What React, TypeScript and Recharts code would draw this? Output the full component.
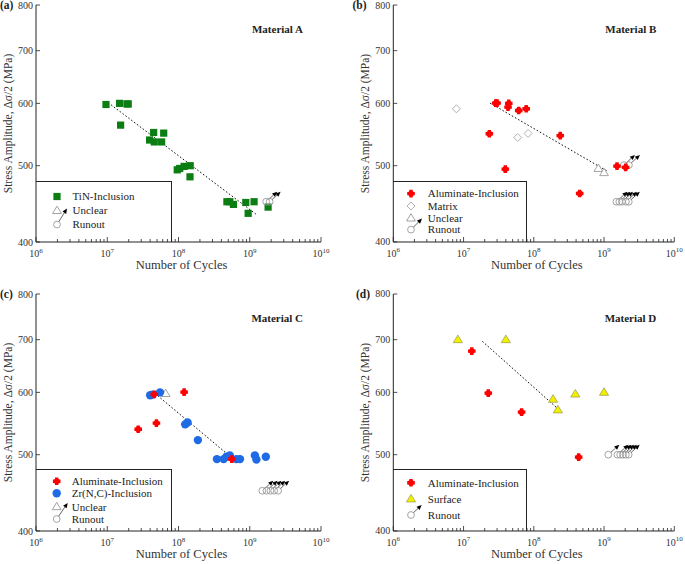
import React from 'react';
import { ScatterChart, Scatter, XAxis, YAxis } from 'recharts';

const FONT = '"Liberation Serif", "Times New Roman", serif';
const INK = '#222';
const PLOT_H = 237;

// axis ticks
const decades = [1e6, 1e7, 1e8, 1e9, 1e10];
const decadeExp = ['6', '7', '8', '9', '10'];
const minorSteps = [2, 3, 4, 5, 6, 7, 8, 9];
const xTicks = [...decades, ...decades.slice(0, -1).flatMap((d) => minorSteps.map((m) => m * d))].sort((a, b) => a - b);
const yTicks = [400, 500, 600, 700, 800];

// (a) Material A
const tinA = [
  { n: 9.6e6, s: 598 }, { n: 1.49e7, s: 600 }, { n: 1.89e7, s: 599 }, { n: 1.97e7, s: 599 },
  { n: 1.54e7, s: 563 }, { n: 4.48e7, s: 551 }, { n: 6.2e7, s: 550 }, { n: 3.93e7, s: 539 },
  { n: 4.57e7, s: 536 }, { n: 5.8e7, s: 536 }, { n: 9.6e7, s: 494 }, { n: 1.04e8, s: 496 },
  { n: 1.2e8, s: 499 }, { n: 1.46e8, s: 500 }, { n: 1.45e8, s: 484 }, { n: 4.78e8, s: 450 },
  { n: 5.25e8, s: 450 }, { n: 5.9e8, s: 446.5 }, { n: 8.8e8, s: 449 }, { n: 1.15e9, s: 450 },
  { n: 9.5e8, s: 435 }, { n: 1.81e9, s: 443 },
];
const runoutA = [{ n: 1.7e9, s: 450 }, { n: 1.9e9, s: 450 }];
const trendA = [{ n: 1.13e7, s: 597.5 }, { n: 1.22e9, s: 434 }];

// (b) Material B
const aluminateB = [
  { n: 2.87e7, s: 600.5 }, { n: 3.0e7, s: 600.5 }, { n: 4.4e7, s: 600 }, { n: 4.3e7, s: 593.5 },
  { n: 6.1e7, s: 587.6 }, { n: 7.8e7, s: 590.5 }, { n: 2.33e7, s: 549 }, { n: 2.38e8, s: 546 },
  { n: 3.93e7, s: 495 }, { n: 1.53e9, s: 499.4 }, { n: 2.03e9, s: 497.5 }, { n: 4.5e8, s: 461 },
];
const matrixB = [{ n: 7.9e6, s: 590.5 }, { n: 5.9e7, s: 543 }, { n: 8.3e7, s: 549.5 }];
const unclearB = [{ n: 8.3e8, s: 496 }, { n: 1.0e9, s: 490 }];
const runoutB = [
  { n: 1.92e9, s: 501 }, { n: 2.26e9, s: 501 },
  { n: 1.5e9, s: 450 }, { n: 1.65e9, s: 450 }, { n: 1.8e9, s: 450 }, { n: 2.05e9, s: 450 }, { n: 2.25e9, s: 450 },
];
const trendB = [{ n: 2.38e7, s: 600.5 }, { n: 1.09e9, s: 492.6 }];

// (c) Material C
const aluminateC = [
  { n: 4.57e7, s: 596.5 }, { n: 1.2e8, s: 600.5 }, { n: 2.72e7, s: 538.7 }, { n: 4.9e7, s: 548.4 }, { n: 5.6e8, s: 493.6 },
];
const zrncC = [
  { n: 4.0e7, s: 595 }, { n: 4.3e7, s: 596 }, { n: 5.5e7, s: 600 }, { n: 1.24e8, s: 546.4 },
  { n: 1.34e8, s: 549.5 }, { n: 1.87e8, s: 521.8 }, { n: 3.46e8, s: 493.6 }, { n: 4.3e8, s: 493.6 },
  { n: 4.7e8, s: 497 }, { n: 5.25e8, s: 499 }, { n: 6.5e8, s: 493.6 }, { n: 7.3e8, s: 493.6 },
  { n: 1.18e9, s: 499 }, { n: 1.24e9, s: 493 }, { n: 1.68e9, s: 497 },
];
const unclearC = [{ n: 6.6e7, s: 598 }];
const runoutC = [
  { n: 1.5e9, s: 450 }, { n: 1.72e9, s: 450 }, { n: 1.95e9, s: 450 }, { n: 2.2e9, s: 450 }, { n: 2.5e9, s: 450 },
];
const trendC = [{ n: 5.1e7, s: 594.2 }, { n: 4.6e8, s: 502.9 }];

// (d) Material D
const aluminateD = [{ n: 1.31e7, s: 677 }, { n: 2.25e7, s: 598.6 }, { n: 6.7e7, s: 566.3 }, { n: 4.35e8, s: 496.4 }];
const surfaceD = [
  { n: 8.3e6, s: 700 }, { n: 4.0e7, s: 700 }, { n: 1.88e8, s: 588 }, { n: 3.9e8, s: 597 },
  { n: 1.0e9, s: 600 }, { n: 2.2e8, s: 570 },
];
const runoutD = [
  { n: 1.15e9, s: 500 }, { n: 1.55e9, s: 500 }, { n: 1.7e9, s: 500 }, { n: 1.86e9, s: 500 },
  { n: 2.04e9, s: 500 }, { n: 2.24e9, s: 500 },
];
const trendD = [{ n: 1.85e7, s: 696.6 }, { n: 2.23e8, s: 571.3 }];

// marker shapes
const Square = ({ cx, cy }: any) => <rect x={cx - 3.6} y={cy - 3.6} width={7.2} height={7.2} fill="#0b7d12" />;
const RedPlus = ({ cx, cy }: any) => (
  <g fill="#f00">
    <path d={`M${cx - 1.7},${cy - 3.8}h3.4v2.1h2.1v3.4h-2.1v2.1h-3.4v-2.1h-2.1v-3.4h2.1z`} />
    <circle cx={cx} cy={cy} r={2.9} />
  </g>
);
const BlueDot = ({ cx, cy }: any) => <circle cx={cx} cy={cy} r={4.2} fill="#1f6be6" />;
const YellowTri = ({ cx, cy }: any) => (
  <polygon points={`${cx},${cy - 4.6} ${cx + 4.6},${cy + 3} ${cx - 4.6},${cy + 3}`} fill="#f2ef00" stroke="#8a8a40" strokeWidth={0.6} />
);
const OpenTri = ({ cx, cy }: any) => (
  <polygon points={`${cx},${cy - 4.4} ${cx + 4.4},${cy + 3} ${cx - 4.4},${cy + 3}`} fill="#fff" stroke="#9a9a9a" strokeWidth={0.9} />
);
const OpenDiamond = ({ cx, cy }: any) => (
  <polygon points={`${cx},${cy - 4} ${cx + 4},${cy} ${cx},${cy + 4} ${cx - 4},${cy}`} fill="#fff" stroke="#a8a8a8" strokeWidth={0.9} />
);
const runoutMark = (dx: number, dy: number) => ({ cx, cy }: any) => {
  const len = Math.hypot(dx, dy);
  const ux = dx / len;
  const uy = dy / len;
  const tx = cx + dx;
  const ty = cy + dy;
  const bx = tx - ux * 5;
  const by = ty - uy * 5;
  return (
    <g>
      <circle cx={cx} cy={cy} r={3.4} fill="none" stroke="#9a9a9a" strokeWidth={0.9} />
      <line x1={cx + ux * 3.4} y1={cy + uy * 3.4} x2={bx} y2={by} stroke="#555" strokeWidth={0.9} />
      <polygon points={`${tx},${ty} ${bx - uy * 2.2},${by + ux * 2.2} ${bx + uy * 2.2},${by - ux * 2.2}`} fill="#000" />
    </g>
  );
};
const Runout = runoutMark(11, -10);
const Nothing = () => <g />;

const PANELS = [
  {
    tag: '(a)', tagX: 0, title: 'Material A', x0: 0, y0: 0, left: 36, top: 5, plotW: 285,
    series: [{ data: tinA, shape: Square }, { data: runoutA, shape: Runout }],
    trend: trendA,
    legend: { top: 180.7, right: 171.7, symX: 21, textX: 36.5, rows: [
      { y: 15.5, label: 'TiN-Inclusion', shape: Square },
      { y: 29.5, label: 'Unclear', shape: OpenTri },
      { y: 43.5, label: 'Runout', shape: runoutMark(10, -16) },
    ] },
  },
  {
    tag: '(b)', tagX: 352.5, title: 'Material B', x0: 340, y0: 0, left: 393.3, top: 5, plotW: 281,
    series: [
      { data: matrixB, shape: OpenDiamond }, { data: unclearB, shape: OpenTri },
      { data: runoutB, shape: Runout }, { data: aluminateB, shape: RedPlus },
    ],
    trend: trendB,
    legend: { top: 180.7, right: 526.7, symX: 18, textX: 34.5, rows: [
      { y: 12.6, label: 'Aluminate-Inclusion', shape: RedPlus },
      { y: 25, label: 'Matrix', shape: OpenDiamond },
      { y: 37, label: 'Unclear', shape: OpenTri },
      { y: 48.6, label: 'Runout', shape: runoutMark(11, -11) },
    ] },
  },
  {
    tag: '(c)', tagX: 0, title: 'Material C', x0: 0, y0: 280, left: 36, top: 294, plotW: 285,
    series: [
      { data: unclearC, shape: OpenTri }, { data: zrncC, shape: BlueDot },
      { data: aluminateC, shape: RedPlus }, { data: runoutC, shape: Runout },
    ],
    trend: trendC,
    legend: { top: 469, right: 171.7, symX: 20.7, textX: 35.7, rows: [
      { y: 12.3, label: 'Aluminate-Inclusion', shape: RedPlus },
      { y: 24.3, label: 'Zr(N,C)-Inclusion', shape: BlueDot },
      { y: 37.7, label: 'Unclear', shape: OpenTri },
      { y: 50, label: 'Runout', shape: runoutMark(11, -16) },
    ] },
  },
  {
    tag: '(d)', tagX: 356, title: 'Material D', x0: 340, y0: 280, left: 393.3, top: 294, plotW: 281,
    series: [
      { data: surfaceD, shape: YellowTri }, { data: aluminateD, shape: RedPlus }, { data: runoutD, shape: Runout },
    ],
    trend: trendD,
    legend: { top: 469, right: 526.7, symX: 18, textX: 34.5, rows: [
      { y: 13.7, label: 'Aluminate-Inclusion', shape: RedPlus },
      { y: 30, label: 'Surface', shape: YellowTri },
      { y: 46, label: 'Runout', shape: runoutMark(10.7, -10) },
    ] },
  },
];

const isDecade = (v: number) => decades.some((d) => Math.abs(d - v) / d < 1e-9);

function Panel({ cfg }: any) {
  const PL = cfg.left - cfg.x0;
  const PT = cfg.top - cfg.y0;
  const PR = PL + cfg.plotW;
  const PB = PT + PLOT_H;
  const W = PR + 14;
  const H = PB + 36;

  const bottomTick = (p: any) => {
    const v = p.payload.value;
    const major = isDecade(v);
    const i = decades.findIndex((d) => Math.abs(d - v) / d < 1e-9);
    return (
      <g>
        <line x1={p.x} x2={p.x} y1={PB} y2={PB - (major ? 5 : 3)} stroke={INK} strokeWidth={0.8} />
        {major && (
          <text x={p.x} y={PB + 15} textAnchor="middle" fontSize={10} fill="#333" fontFamily={FONT}>
            10<tspan dy={-4.5} fontSize={7}>{decadeExp[i]}</tspan>
          </text>
        )}
      </g>
    );
  };
  const topTick = (p: any) => {
    const major = isDecade(p.payload.value);
    return <line x1={p.x} x2={p.x} y1={PT} y2={PT + (major ? 5 : 3)} stroke={INK} strokeWidth={0.8} />;
  };
  const leftTick = (p: any) => (
    <g>
      <line x1={PL} x2={PL + 4} y1={p.y} y2={p.y} stroke={INK} strokeWidth={0.8} />
      <text x={PL - 3} y={p.y} textAnchor="end" dominantBaseline="central" fontSize={10} fill="#333" fontFamily={FONT}>
        {p.payload.value}
      </text>
    </g>
  );
  const rightTick = (p: any) => <line x1={PR} x2={PR - 4} y1={p.y} y2={p.y} stroke={INK} strokeWidth={0.8} />;

  const lg = cfg.legend;
  return (
    <>
      <div style={{ position: 'absolute', left: cfg.x0, top: cfg.y0 }}>
        <ScatterChart width={W} height={H} margin={{ top: PT, left: PL - 36, right: W - PR, bottom: 0 }}>
          <XAxis
            xAxisId="b" dataKey="n" type="number" scale="log" domain={[1e6, 1e10]} allowDataOverflow
            ticks={xTicks} interval={0} height={H - PB} tickLine={false} axisLine={{ stroke: INK }} tick={bottomTick}
            label={() => (
              <text x={PL + cfg.plotW / 2 + 3} y={PB + 23} textAnchor="middle" dominantBaseline="central"
                fontSize={12.5} fill="#333" fontFamily={FONT}>Number of Cycles</text>
            )}
          />
          <XAxis
            xAxisId="t" orientation="top" dataKey="n" type="number" scale="log" domain={[1e6, 1e10]} allowDataOverflow
            ticks={xTicks} interval={0} height={0} tickLine={false} axisLine={{ stroke: INK }} tick={topTick}
          />
          <YAxis
            yAxisId="l" dataKey="s" type="number" scale="log" domain={[400, 800]} allowDataOverflow
            ticks={yTicks} interval={0} width={36} tickLine={false} axisLine={{ stroke: INK }} tick={leftTick}
            label={() => (
              <text transform={`translate(${PL - 28.5},${PT + PLOT_H / 2}) rotate(-90)`} textAnchor="middle" dominantBaseline="central"
                fontSize={11.5} fill="#333" fontFamily={FONT}>Stress Amplitude, Δσ/2 (MPa)</text>
            )}
          />
          <YAxis
            yAxisId="r" orientation="right" dataKey="s" type="number" scale="log" domain={[400, 800]} allowDataOverflow
            ticks={yTicks} interval={0} width={0} tickLine={false} axisLine={{ stroke: INK }} tick={rightTick}
          />
          <Scatter
            data={cfg.trend} xAxisId="t" yAxisId="r" shape={Nothing} isAnimationActive={false}
            line={{ stroke: '#111', strokeWidth: 1, strokeDasharray: '1.6 2' }}
          />
          {cfg.series.map((s: any, i: number) => (
            <Scatter key={i} data={s.data} xAxisId="b" yAxisId="l" shape={s.shape} isAnimationActive={false} />
          ))}
        </ScatterChart>
      </div>
      <div style={{ position: 'absolute', left: cfg.tagX, top: cfg.top - 7, width: 30, lineHeight: '14px',
        fontSize: 11.5, fontWeight: 'bold', color: '#222' }}>
        {cfg.tag}
      </div>
      <div style={{ position: 'absolute', left: cfg.left + cfg.plotW - 118, top: cfg.top + 17, width: 100, textAlign: 'right',
        lineHeight: '14px', fontSize: 11, fontWeight: 'bold', color: '#222', whiteSpace: 'nowrap' }}>
        {cfg.title}
      </div>
      <div style={{ position: 'absolute', left: cfg.left, top: lg.top, width: lg.right - cfg.left, height: cfg.top + PLOT_H - lg.top,
        borderTop: `1px solid ${INK}`, borderRight: `1px solid ${INK}`, boxSizing: 'border-box' }}>
        <svg width={lg.right - cfg.left} height={cfg.top + PLOT_H - lg.top} style={{ position: 'absolute', left: 0, top: -1, overflow: 'visible' }}>
          {lg.rows.map((r: any, i: number) => <g key={i}>{r.shape({ cx: lg.symX, cy: r.y })}</g>)}
        </svg>
        {lg.rows.map((r: any, i: number) => (
          <div key={i} style={{ position: 'absolute', left: lg.textX, top: r.y - 8, lineHeight: '14px', fontSize: 11,
            color: '#222', whiteSpace: 'nowrap' }}>
            {r.label}
          </div>
        ))}
      </div>
    </>
  );
}

export default function App() {
  return (
    <div style={{ position: 'absolute', left: 0, top: 0, width: 685, height: 564, background: '#fff', fontFamily: FONT, overflow: 'hidden' }}>
      {PANELS.map((cfg) => <Panel key={cfg.tag} cfg={cfg} />)}
    </div>
  );
}
